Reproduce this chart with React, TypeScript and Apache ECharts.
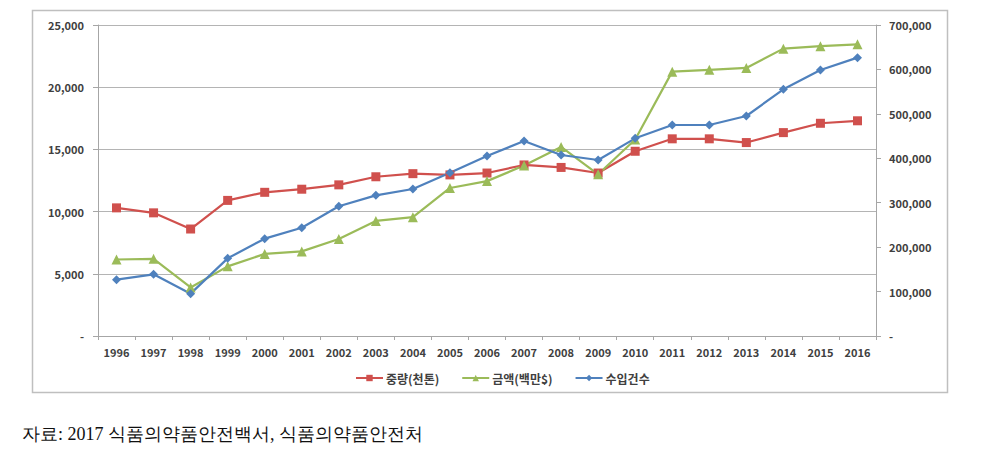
import React, { useEffect, useRef } from "react";
import * as echarts from "echarts";

const years = ["1996","1997","1998","1999","2000","2001","2002","2003","2004","2005","2006","2007","2008","2009","2010","2011","2012","2013","2014","2015","2016"];
const weight = [10300, 9900, 8600, 10900, 11550, 11800, 12150, 12800, 13050, 12950, 13100, 13750, 13550, 13100, 14850, 15850, 15850, 15550, 16350, 17100, 17300];
const amount = [6150, 6200, 3900, 5600, 6600, 6800, 7800, 9250, 9550, 11900, 12450, 13700, 15200, 13000, 15800, 21250, 21400, 21550, 23100, 23300, 23450];
const cases = [126800, 138800, 95300, 174800, 219100, 243800, 291900, 316600, 330900, 367600, 405100, 438900, 407400, 396100, 444900, 474900, 474900, 495200, 555200, 598700, 626500];
const seriesNames = ["중량(천톤)", "금액(백만$)", "수입건수"];
const caption = "자료: 2017 식품의약품안전백서, 식품의약품안전처";

const fmt = (v: number) => (v === 0 ? "-" : v.toLocaleString("en-US"));

export default function App() {
  const ref = useRef<HTMLDivElement>(null);
  useEffect(() => {
    if (!ref.current) return;
    const chart = echarts.init(ref.current, undefined, { renderer: "svg" });
    const labelStyle = { color: "#404040", fontSize: 11, fontFamily: "Noto Sans CJK KR, sans-serif", fontWeight: "bold" as const };
    chart.setOption({
      animation: false,
      backgroundColor: "#fff",
      grid: { left: 98, right: 110, top: 25, bottom: 138, containLabel: false },
      legend: {
        top: 367,
        left: 350,
        itemWidth: 27,
        itemHeight: 8,
        itemGap: 22,
        textStyle: { ...labelStyle, fontSize: 12, padding: [0, 0, 0, -2] },
        data: seriesNames,
      },
      xAxis: {
        type: "category",
        data: years,
        boundaryGap: true,
        axisLine: { lineStyle: { color: "#A6A6A6" } },
        axisTick: { show: true, length: 4, lineStyle: { color: "#A6A6A6" } },
        axisLabel: { ...labelStyle, margin: 10 },
      },
      yAxis: [
        {
          type: "value",
          min: 0,
          max: 25000,
          interval: 5000,
          axisLine: { show: true, lineStyle: { color: "#A6A6A6" } },
          axisTick: { show: true, length: 5, lineStyle: { color: "#A6A6A6" } },
          axisLabel: { ...labelStyle, margin: 14, formatter: fmt },
          splitLine: { lineStyle: { color: "#B4B4B4", width: 1 } },
        },
        {
          type: "value",
          min: 0,
          max: 700000,
          interval: 100000,
          position: "right",
          axisLine: { show: true, lineStyle: { color: "#A6A6A6" } },
          axisTick: { show: true, length: 5, lineStyle: { color: "#A6A6A6" } },
          axisLabel: { ...labelStyle, margin: 13, formatter: fmt },
          splitLine: { show: false },
        },
      ],
      series: [
        {
          name: seriesNames[0],
          type: "line",
          data: weight,
          yAxisIndex: 0,
          symbol: "rect",
          symbolSize: 9,
          lineStyle: { color: "#D0504D", width: 2.2 },
          itemStyle: { color: "#D0504D" },
        },
        {
          name: seriesNames[1],
          type: "line",
          data: amount,
          yAxisIndex: 0,
          symbol: "triangle",
          symbolSize: 10,
          lineStyle: { color: "#9BBB59", width: 2.2 },
          itemStyle: { color: "#9BBB59" },
        },
        {
          name: seriesNames[2],
          type: "line",
          data: cases,
          yAxisIndex: 1,
          symbol: "diamond",
          symbolSize: 9,
          lineStyle: { color: "#4F81BD", width: 2.2 },
          itemStyle: { color: "#4F81BD" },
        },
      ],
      graphic: [
        {
          type: "rect",
          shape: { x: 32.5, y: 10.5, width: 915, height: 382 },
          style: { fill: "none", stroke: "#BFBFBF", lineWidth: 1.5 },
          silent: true,
          z: -1,
        },
        {
          type: "text",
          left: 22,
          top: 425,
          style: { text: caption, fontSize: 18, fontFamily: "serif", fill: "#111" },
        },
      ],
    });
    return () => chart.dispose();
  }, []);
  return <div ref={ref} style={{ position: "fixed", left: 0, top: 0, width: 986, height: 474 }} />;
}
